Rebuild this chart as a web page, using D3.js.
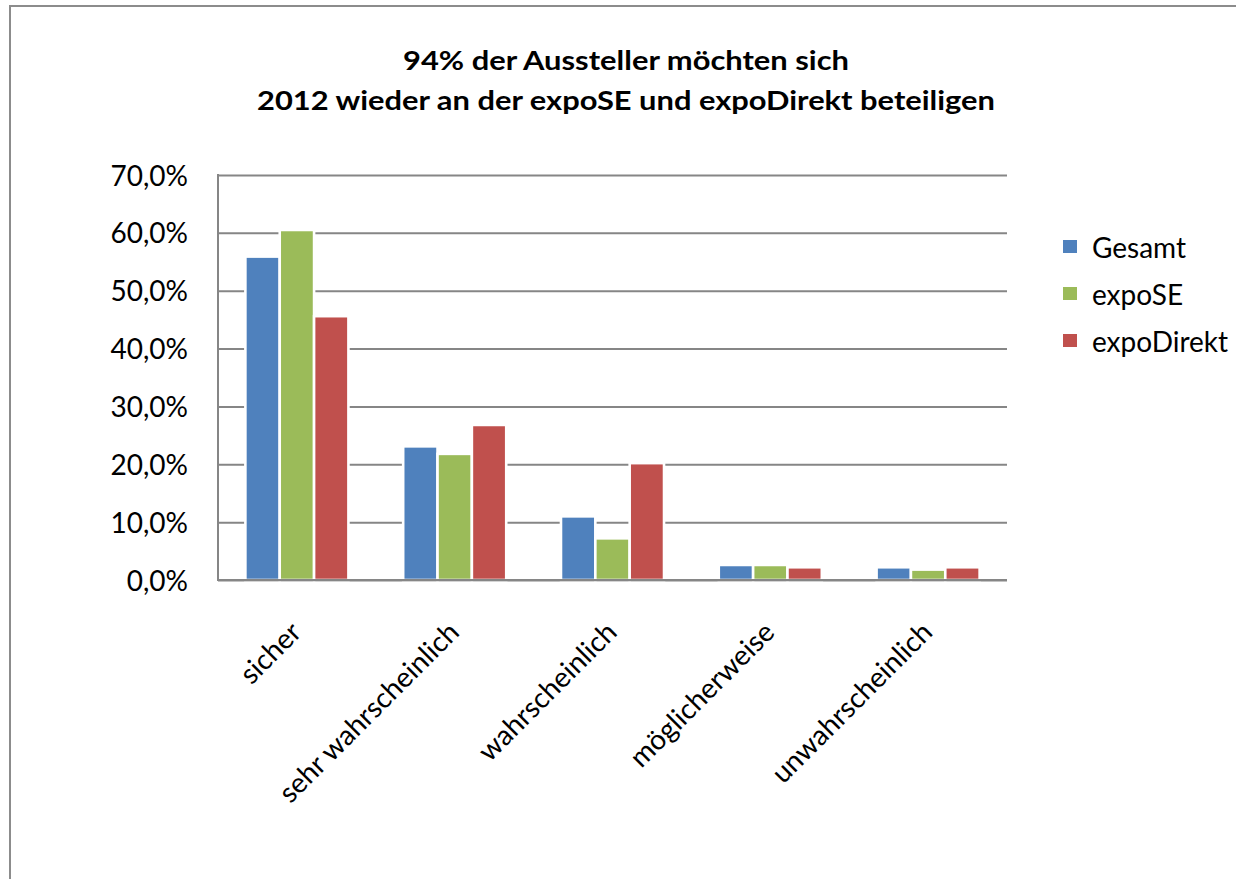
<!DOCTYPE html>
<html>
<head>
<meta charset="utf-8">
<script src="https://cdn.jsdelivr.net/npm/d3@7"></script>
<style>
  html, body { margin: 0; padding: 0; background: #fff; }
  svg { display: block; }
  text { font-family: Lato, "Open Sans", sans-serif; fill: #000; }
</style>
</head>
<body>
<svg id="chart" width="1236" height="879"></svg>
<script>
const categories = ["sicher", "sehr wahrscheinlich", "wahrscheinlich", "möglicherweise", "unwahrscheinlich"];
const seriesNames = ["Gesamt", "expoSE", "expoDirekt"];
const gesamt = [0.559, 0.231, 0.110, 0.026, 0.022];
const expoSE = [0.605, 0.218, 0.072, 0.026, 0.018];
const expoDirekt = [0.456, 0.268, 0.202, 0.022, 0.022];
const yTicks = [0, 0.1, 0.2, 0.3, 0.4, 0.5, 0.6, 0.7];
const titleLines = ["94% der Aussteller möchten sich", "2012 wieder an der expoSE und expoDirekt beteiligen"];
const colors = ["#4F81BD", "#9BBB59", "#C0504D"];

const seriesValues = [gesamt, expoSE, expoDirekt];
const svg = d3.select("#chart");

// outer frame
svg.append("rect").attr("x", 10).attr("y", 6).attr("width", 1300).attr("height", 1000)
  .attr("fill", "none").attr("stroke", "#8c8c8c").attr("stroke-width", 2);

const plot = {left: 218, right: 1007, top: 175, bottom: 580};
const y = d3.scaleLinear().domain([0, 0.7]).range([plot.bottom, plot.top]);
const x0 = d3.scaleBand().domain(categories).range([plot.left, plot.right])
  .paddingInner(0.347).paddingOuter(0.1735);
const x1 = d3.scaleBand().domain(seriesNames).range([0, x0.bandwidth()]).padding(0);

// gridlines
const yAxis = d3.axisLeft(y).tickValues(yTicks).tickSize(-(plot.right - plot.left))
  .tickFormat(d => (d * 100).toFixed(1).replace(".", ",") + "%").tickPadding(30);
const gy = svg.append("g").attr("transform", `translate(${plot.left},0)`).call(yAxis);
gy.select(".domain").remove();
gy.selectAll(".tick line").attr("stroke", "#868686").attr("stroke-width", 2);
gy.selectAll(".tick text").attr("font-size", 28).attr("font-family", "Lato, sans-serif")
  .attr("fill", "#000").attr("x", -30).attr("dy", "0.36em");

// bars
const groups = svg.append("g").selectAll("g").data(categories).join("g")
  .attr("transform", d => `translate(${x0(d)},0)`);
groups.selectAll("rect").data((c, i) => seriesNames.map((s, j) => ({s, v: seriesValues[j][i], j})))
  .join("rect")
  .attr("x", d => x1(d.s))
  .attr("width", x1.bandwidth())
  .attr("y", d => y(d.v))
  .attr("height", d => y(0) - y(d.v))
  .attr("fill", d => colors[d.j])
  .attr("stroke", "#fff").attr("stroke-width", 2.6);

// axes lines
svg.append("line").attr("x1", plot.left).attr("x2", plot.left).attr("y1", plot.top - 1).attr("y2", plot.bottom + 1)
  .attr("stroke", "#868686").attr("stroke-width", 2);
svg.append("line").attr("x1", plot.left).attr("x2", plot.right).attr("y1", plot.bottom).attr("y2", plot.bottom)
  .attr("stroke", "#868686").attr("stroke-width", 2);

// x labels
svg.append("g").selectAll("text").data(categories).join("text")
  .attr("transform", d => `translate(${x0(d) + x0.bandwidth() / 2 + 6},${plot.bottom + 54}) rotate(-45)`)
  .attr("text-anchor", "end")
  .attr("font-size", 28)
  .text(d => d);

// title
const titleSizes = [446, 738];
svg.append("g").selectAll("text").data(titleLines).join("text")
  .attr("x", 626).attr("y", (d, i) => 70 + i * 40)
  .attr("text-anchor", "middle")
  .attr("font-size", 27).attr("font-weight", "bold")
  .attr("textLength", (d, i) => titleSizes[i]).attr("lengthAdjust", "spacingAndGlyphs")
  .text(d => d);

// legend
const leg = svg.append("g").selectAll("g").data(seriesNames).join("g")
  .attr("transform", (d, i) => `translate(1063,${240 + i * 47})`);
leg.append("rect").attr("width", 14).attr("height", 13).attr("fill", (d, i) => colors[i]);
leg.append("text").attr("x", 29).attr("y", 18).attr("font-size", 28).text(d => d);
</script>
</body>
</html>
